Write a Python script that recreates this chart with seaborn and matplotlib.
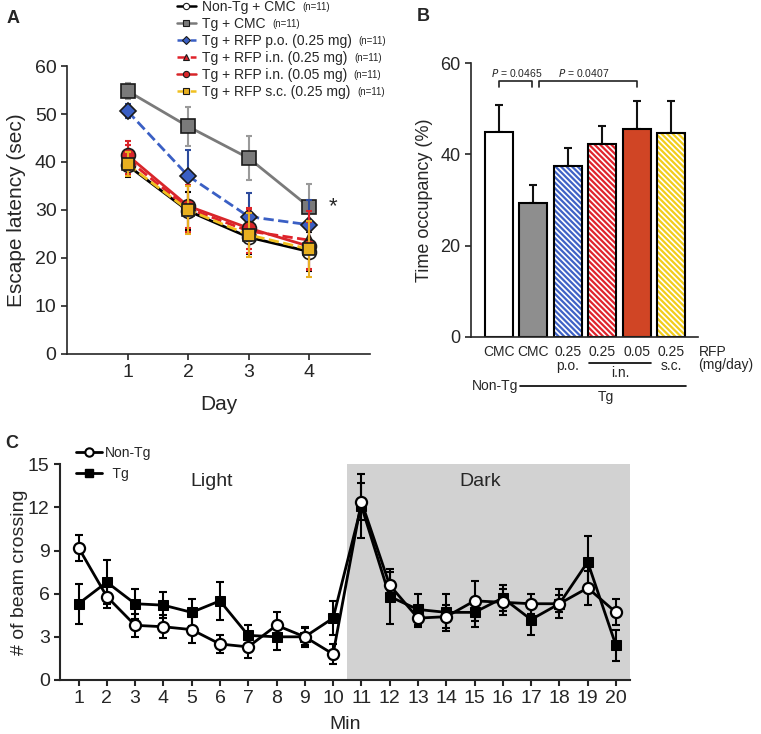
import matplotlib
matplotlib.use("Agg")
import matplotlib.pyplot as plt
import matplotlib.transforms as mtransforms
from matplotlib.lines import Line2D
import seaborn as sns
import numpy as np

sns.set_style("ticks")
plt.rcParams["font.family"] = ["Liberation Sans", "DejaVu Sans"]
plt.rcParams["hatch.linewidth"] = 1.6

# ---- panel A: escape latency ----
days = [1, 2, 3, 4]
groups_a = ["Non-Tg + CMC", "Tg + CMC", "Tg + RFP p.o. (0.25 mg)",
            "Tg + RFP i.n. (0.25 mg)", "Tg + RFP i.n. (0.05 mg)", "Tg + RFP s.c. (0.25 mg)"]
n_a = ["(n=11)"] * 6
lat_nontg = [39.3, 29.8, 24.3, 21.3]
lat_nontg_err = [2.5, 4.0, 3.5, 4.0]
lat_tg = [54.8, 47.4, 40.8, 30.6]
lat_tg_err = [1.6, 4.1, 4.6, 4.9]
lat_po = [50.6, 37.1, 28.6, 26.9]
lat_po_err = [1.5, 5.5, 5.0, 5.1]
lat_in25 = [40.5, 30.3, 25.6, 23.7]
lat_in25_err = [3.0, 5.0, 4.5, 6.0]
lat_in05 = [41.4, 30.8, 26.2, 22.4]
lat_in05_err = [3.0, 4.5, 4.3, 5.0]
lat_sc = [39.5, 30.0, 24.8, 21.8]
lat_sc_err = [2.5, 5.0, 4.6, 5.8]

# ---- panel B: time occupancy ----
bar_groups = ["Non-Tg CMC", "Tg CMC", "Tg p.o. 0.25", "Tg i.n. 0.25", "Tg i.n. 0.05", "Tg s.c. 0.25"]
bar_ticks = ["CMC", "CMC", "0.25\np.o.", "0.25", "0.05", "0.25\ns.c."]
occ = [45.0, 29.3, 37.4, 42.2, 45.5, 44.6]
occ_err = [5.9, 4.0, 4.1, 4.1, 6.3, 7.2]

# ---- panel C: beam crossing ----
mins = list(range(1, 21))
beam_nontg = [9.2, 5.8, 3.8, 3.7, 3.5, 2.5, 2.3, 3.8, 3.0, 1.8,
              12.4, 6.6, 4.3, 4.4, 5.5, 5.4, 5.3, 5.3, 6.4, 4.7]
beam_nontg_err = [0.9, 0.8, 0.8, 0.8, 0.9, 0.65, 0.8, 0.9, 0.7, 0.7,
                  1.3, 0.9, 0.6, 0.8, 1.4, 0.9, 0.7, 0.6, 1.2, 0.9]
beam_tg = [5.3, 6.8, 5.3, 5.2, 4.7, 5.5, 3.1, 3.0, 3.0, 4.3,
           12.1, 5.8, 4.9, 4.7, 4.7, 5.7, 4.2, 5.3, 8.2, 2.4]
beam_tg_err = [1.4, 1.55, 1.05, 0.9, 0.95, 1.3, 0.75, 0.95, 0.6, 1.2,
               2.2, 1.9, 1.1, 1.3, 1.0, 0.9, 1.1, 1.0, 1.8, 1.05]

fig = plt.figure(figsize=(7.61, 7.34), dpi=100)
axA = fig.add_axes([0.088, 0.518, 0.398, 0.392])
axB = fig.add_axes([0.619, 0.541, 0.298, 0.373])
axC = fig.add_axes([0.079, 0.0736, 0.749, 0.294])

# ---------------- A ----------------
series_a = [
    (lat_nontg, lat_nontg_err, "black", "black", "-", "o", "white", 10),
    (lat_tg, lat_tg_err, "#7a7a7a", "#9a9a9a", "-", "s", "#7a7a7a", 9.5),
    (lat_po, lat_po_err, "#3a5fc4", "#2c4a9c", "--", "D", "#3a5fc4", 8),
    (lat_in25, lat_in25_err, "#e0222a", "#e0222a", "--", "^", "#e0222a", 9),
    (lat_in05, lat_in05_err, "#d8262a", "#d8262a", "-", "o", "#d8262a", 10),
    (lat_sc, lat_sc_err, "#f0c020", "#e8b020", "--", "s", "#e8b020", 8.5),
]
handles = []
for i, (vals, err, col, ecol, ls, mk, mfc, ms) in enumerate(series_a):
    axA.errorbar(days, vals, yerr=err, fmt="none", ecolor=ecol, elinewidth=1.5,
                 capsize=2.5, capthick=1.5, zorder=2 + i * 2)
    sns.lineplot(x=days, y=vals, ax=axA, color=col, linestyle=ls, linewidth=2,
                 marker=mk, markersize=ms, markerfacecolor=mfc, markeredgecolor="#1a1a1a",
                 markeredgewidth=1.2, zorder=3 + i * 2)
    handles.append(Line2D([], [], color=col, linestyle=ls, linewidth=1.8, marker=mk,
                          markersize=4.5, markerfacecolor=mfc, markeredgecolor="#1a1a1a",
                          markeredgewidth=0.8))
axA.text(4.39, 30.6, "*", fontsize=16, ha="center", va="center")
axA.set_xlim(0, 5)
axA.set_ylim(0, 60)
axA.set_xticks(days)
axA.set_yticks(range(0, 61, 10))
axA.tick_params(labelsize=14, width=1.2, length=4, direction="out")
axA.set_xlabel("Day", fontsize=15)
axA.set_ylabel("Escape latency (sec)", fontsize=15)
axA.xaxis.set_label_coords(0.5, -0.142)
axA.yaxis.set_label_coords(-0.135, 0.5)
for s in ["left", "bottom"]:
    axA.spines[s].set_linewidth(1.2)
sns.despine(ax=axA)

leg = fig.legend(handles, groups_a, loc="upper left", bbox_to_anchor=(0.232, 1.0),
                 frameon=False, fontsize=10, handlelength=1.4, handletextpad=0.4,
                 labelspacing=0.22, borderpad=0, borderaxespad=0)

# ---------------- B ----------------
hatch_cols = ["white", "#8e8e8e", "#3f62c6", "#e0242c", "#d04525", "#f2cd1c"]
sns.barplot(x=bar_groups, y=occ, ax=axB, width=0.81, errorbar=None, color="white")
for i, p in enumerate(axB.patches):
    if i in (2, 3, 5):
        p.set_facecolor("white")
        p.set_edgecolor(hatch_cols[i])
        p.set_hatch("\\\\\\\\\\\\")
        p.set_linewidth(0)
    else:
        p.set_facecolor(hatch_cols[i])
        p.set_linewidth(0)
sns.barplot(x=bar_groups, y=occ, ax=axB, width=0.81, errorbar=None, fill=False,
            color="black", linewidth=1.5)
for p in axB.patches:
    if not p.get_fill():
        p.set_edgecolor("#111111")
xb = np.arange(len(occ))
axB.errorbar(xb, occ, yerr=[[0] * len(occ), occ_err], fmt="none", ecolor="#111111",
             elinewidth=1.5, capsize=3, capthick=1.5, zorder=0)
axB.set_xlim(-0.81, 5.78)
axB.set_ylim(0, 60)
axB.set_yticks([0, 20, 40, 60])
axB.set_xticks(xb)
axB.set_xticklabels(bar_ticks, fontsize=10, linespacing=0.95,
                    family=["Liberation Sans Narrow", "Liberation Sans"])
axB.tick_params(axis="x", length=0, pad=6)
axB.tick_params(axis="y", labelsize=13, width=1.2, length=4)
axB.set_ylabel("Time occupancy (%)", fontsize=13)
axB.yaxis.set_label_coords(-0.17, 0.5)
axB.set_xlabel("")
for s in ["left", "bottom"]:
    axB.spines[s].set_linewidth(1.2)
sns.despine(ax=axB)

# p-value brackets
yb, yl = 56.1, 54.8
for x0, x1 in [(0, 0.97), (1.15, 4.0)]:
    axB.plot([x0, x0, x1, x1], [yl, yb, yb, yl], color="#222222", lw=1.2, clip_on=False)
axB.text(0.52, 57.9, "$P$ = 0.0465", fontsize=7.5, ha="center", va="center")
axB.text(2.47, 57.9, "$P$ = 0.0407", fontsize=7.5, ha="center", va="center")

tb = mtransforms.blended_transform_factory(axB.transData, axB.transAxes)
narrow = ["Liberation Sans Narrow", "Liberation Sans"]
axB.text(5.8, -0.028, "RFP\n(mg/day)", transform=tb, fontsize=10, ha="left", va="top",
         linespacing=0.95, family=narrow)
axB.plot([2.62, 4.42], [-0.095, -0.095], transform=tb, color="black", lw=1.2, clip_on=False)
axB.text(3.52, -0.105, "i.n.", transform=tb, fontsize=10, ha="center", va="top", family=narrow)
axB.plot([0.61, 5.44], [-0.179, -0.179], transform=tb, color="black", lw=1.2, clip_on=False)
axB.text(0.56, -0.179, "Non-Tg", transform=tb, fontsize=10, ha="right", va="center", family=narrow)
axB.text(3.1, -0.195, "Tg", transform=tb, fontsize=10, ha="center", va="top", family=narrow)

# ---------------- C ----------------
axC.axvspan(10.5, 20.5, color="#d2d2d2", zorder=0, lw=0)
axC.errorbar(mins, beam_tg, yerr=beam_tg_err, fmt="none", ecolor="black", elinewidth=1.5,
             capsize=3, capthick=1.5, zorder=2)
axC.errorbar(mins, beam_nontg, yerr=beam_nontg_err, fmt="none", ecolor="black", elinewidth=1.5,
             capsize=3, capthick=1.5, zorder=2)
sns.lineplot(x=mins, y=beam_tg, ax=axC, color="black", linewidth=2, marker="s", markersize=7,
             markerfacecolor="black", markeredgecolor="black", zorder=3)
sns.lineplot(x=mins, y=beam_nontg, ax=axC, color="black", linewidth=2, marker="o", markersize=8,
             markerfacecolor="white", markeredgecolor="black", markeredgewidth=1.6, zorder=4)
axC.set_xlim(0.35, 20.5)
axC.set_ylim(0, 15)
axC.set_xticks(mins)
axC.set_yticks(range(0, 16, 3))
axC.tick_params(labelsize=14, width=1.5, length=4)
axC.set_xlabel("Min", fontsize=14)
axC.set_ylabel("# of beam crossing", fontsize=14)
axC.xaxis.set_label_coords(0.5, -0.165)
axC.yaxis.set_label_coords(-0.057, 0.5)
for s in ["left", "bottom"]:
    axC.spines[s].set_linewidth(1.5)
sns.despine(ax=axC)
axC.text(5.7, 13.8, "Light", fontsize=14, ha="center", va="center")
axC.text(15.2, 13.8, "Dark", fontsize=14, ha="center", va="center")
hc = [Line2D([], [], color="black", lw=2, marker="o", ms=6, mfc="white", mec="black", mew=1.5),
      Line2D([], [], color="black", lw=2, marker="s", ms=5.5, mfc="black", mec="black")]
fig.legend(hc, ["Non-Tg", "  Tg"], loc="upper left", bbox_to_anchor=(0.1, 0.392),
           frameon=False, fontsize=10, handlelength=1.9, handletextpad=0.15,
           labelspacing=0.45, borderpad=0, borderaxespad=0)

# panel letters
fig.text(0.008, 0.975, "A", fontsize=13, fontweight="bold", va="center")
fig.text(0.548, 0.978, "B", fontsize=13, fontweight="bold", va="center")
fig.text(0.007, 0.396, "C", fontsize=13, fontweight="bold", va="center")

# (n=11) after legend A entries
fig.canvas.draw()
inv = fig.transFigure.inverted()
for t, n in zip(leg.get_texts(), n_a):
    bb = t.get_window_extent()
    x, y = inv.transform((bb.x1 + 7, (bb.y0 + bb.y1) / 2))
    fig.text(x, y, n, fontsize=7, ha="left", va="center")

fig.savefig("out.png", dpi=100)
